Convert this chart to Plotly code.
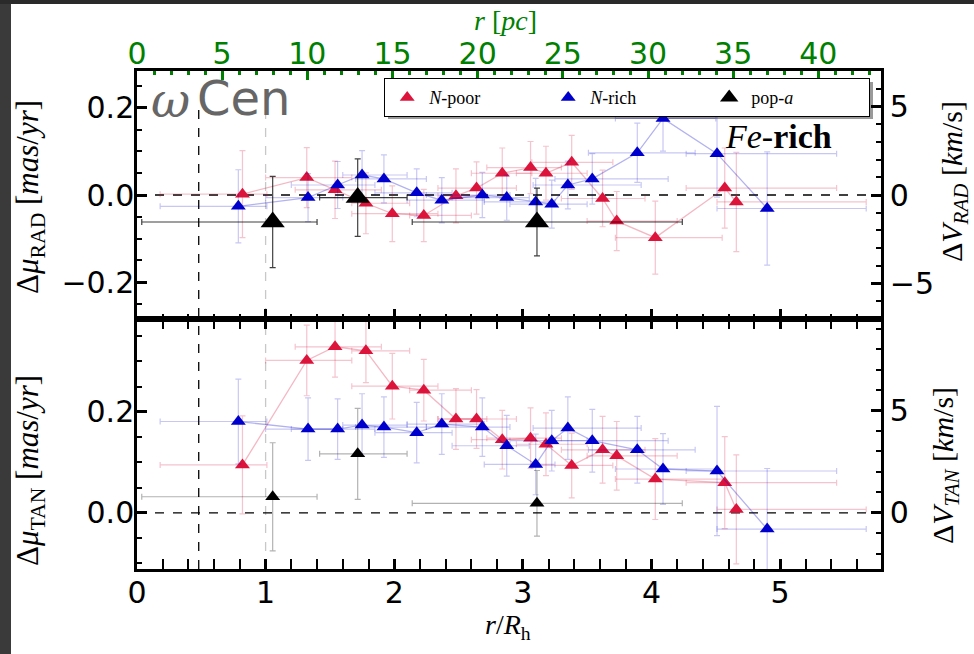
import plotly.graph_objects as go

# ---------------- data ----------------
RH_PC = 7.55          # pc per R_h (top axis)
KMS_PER_MASYR = 24.65 # km/s per mas/yr (right axes)

# N-poor (red)
np_r    = [0.82, 1.32, 1.54, 1.78, 1.985, 2.23, 2.48, 2.64, 2.84, 3.06, 3.18, 3.38, 3.62, 3.73, 4.03, 4.57, 4.66]
np_xlo  = [0.18, 1.00, 1.23, 1.67, 1.67, 2.12, 2.34, 2.34, 2.60, 2.72, 2.95, 3.07, 3.30, 3.50, 3.72, 4.27, 4.51]
np_xhi  = [1.01, 1.67, 1.90, 2.12, 2.34, 2.60, 2.72, 2.95, 3.07, 3.30, 3.50, 3.70, 3.95, 4.20, 4.55, 5.44, 5.67]
np_rad  = [0.002, 0.040, 0.012, -0.019, -0.043, -0.047, -0.002, 0.016, 0.050, 0.063, 0.050, 0.075, -0.008, -0.060, -0.098, 0.016, -0.016]
np_rade = [0.100, 0.069, 0.066, 0.070, 0.064, 0.060, 0.062, 0.060, 0.058, 0.060, 0.062, 0.062, 0.065, 0.068, 0.084, 0.092, 0.114]
np_tan  = [0.095, 0.302, 0.329, 0.321, 0.251, 0.243, 0.186, 0.186, 0.145, 0.148, 0.136, 0.094, 0.125, 0.113, 0.067, 0.060, 0.007]
np_tane = [0.097, 0.070, 0.060, 0.063, 0.065, 0.061, 0.060, 0.058, 0.058, 0.060, 0.062, 0.064, 0.066, 0.068, 0.080, 0.091, 0.108]

# N-rich (blue)
nr_r    = [0.788, 1.33, 1.56, 1.75, 1.92, 2.175, 2.37, 2.685, 2.875, 3.10, 3.225, 3.35, 3.54, 3.89, 4.09, 4.51, 4.90]
nr_xlo  = [0.18, 1.00, 1.20, 1.60, 1.70, 1.85, 2.10, 2.25, 2.45, 2.70, 2.90, 3.08, 3.25, 3.51, 3.72, 4.27, 4.51]
nr_xhi  = [1.01, 1.60, 1.85, 2.10, 2.25, 2.45, 2.70, 2.90, 3.05, 3.25, 3.50, 3.92, 4.13, 4.34, 4.50, 5.44, 5.67]
nr_rad  = [-0.026, -0.006, 0.023, 0.046, 0.037, 0.005, -0.012, 0.000, -0.006, -0.016, -0.021, 0.023, 0.037, 0.097, 0.176, 0.095, -0.031]
nr_rade = [0.084, 0.055, 0.054, 0.056, 0.055, 0.055, 0.052, 0.052, 0.052, 0.054, 0.055, 0.055, 0.058, 0.068, 0.075, 0.100, 0.130]
nr_tan  = [0.181, 0.166, 0.166, 0.174, 0.170, 0.159, 0.176, 0.170, 0.133, 0.096, 0.143, 0.168, 0.143, 0.125, 0.087, 0.083, -0.032]
nr_tane = [0.084, 0.062, 0.060, 0.062, 0.060, 0.060, 0.060, 0.058, 0.060, 0.060, 0.060, 0.062, 0.062, 0.066, 0.070, 0.128, 0.120]

# pop-a (black)
pa_r    = [1.055, 1.716, 3.11]
pa_xlo  = [0.037, 1.42, 2.14]
pa_xhi  = [1.40, 2.10, 4.24]
pa_rad  = [-0.062, -0.006, -0.062]
pa_rade = [0.105, 0.089, 0.078]
pa_tan  = [0.032, 0.117, 0.019]
pa_tane = [0.107, 0.090, 0.065]

legend_names = ["<i>N</i>-poor", "<i>N</i>-rich", "pop-<i>a</i>"]

# ---------------- styling ----------------
RED = "rgb(220,20,60)"
BLUE = "rgb(0,0,205)"
SERIF = "Liberation Serif"
SANS = "DejaVu Sans"

fig = go.Figure()


def add_series(r, xlo, xhi, y, ye, rgb, xa, ya, mode, size, ecol, lcol):
    fig.add_trace(go.Scatter(
        x=r, y=y, xaxis=xa, yaxis=ya, mode=mode, showlegend=False,
        line=dict(color=lcol, width=1.3),
        marker=dict(symbol="triangle-up", size=size, color=rgb),
        error_y=dict(type="data", array=ye, color=ecol, thickness=1.2, width=3),
        error_x=dict(type="data", symmetric=False,
                     array=[h - v for h, v in zip(xhi, r)],
                     arrayminus=[v - l for v, l in zip(r, xlo)],
                     color=ecol, thickness=1.2, width=3),
    ))


for (ya, yr, yre, yp, ype, yb, ybe) in [
    ("y2", np_rad, np_rade, nr_rad, nr_rade, pa_rad, pa_rade),
    ("y", np_tan, np_tane, nr_tan, nr_tane, pa_tan, pa_tane),
]:
    xa = "x2" if ya == "y2" else "x"
    add_series(np_r, np_xlo, np_xhi, yr, yre, RED, xa, ya, "lines+markers", 13,
               "rgba(220,20,60,0.25)", "rgba(220,20,60,0.3)")
    add_series(nr_r, nr_xlo, nr_xhi, yp, ype, BLUE, xa, ya, "lines+markers", 13,
               "rgba(0,0,205,0.22)", "rgba(0,0,205,0.3)")
    if ya == "y2":
        add_series(pa_r, pa_xlo, pa_xhi, yb, ybe, "black", xa, ya, "markers", 21,
                   "rgba(0,0,0,0.75)", "black")
    else:
        add_series(pa_r, pa_xlo, pa_xhi, yb, ybe, "black", xa, ya, "markers", 13,
                   "rgba(0,0,0,0.3)", "black")

# legend-only traces
for name, col, sz in zip(legend_names, [RED, BLUE, "black"], [13, 13, 20]):
    fig.add_trace(go.Scatter(x=[None], y=[None], mode="markers", name=name, xaxis="x2", yaxis="y2",
                             marker=dict(symbol="triangle-up", size=sz, color=col)))

XMAX = 5.785
SPLIT = 0.502

tickfont = dict(family=SANS, size=30, color="black")
axcommon = dict(showline=True, linecolor="black", linewidth=2.5, ticks="inside",
                ticklen=10, tickwidth=2.5, tickcolor="black", showgrid=False,
                zeroline=False, tickfont=tickfont)


def px2x(px):
    return (px - 137) / 744


def py2y(py):
    return (569 - py) / 498


fig.update_layout(
    width=974, height=654,
    margin=dict(l=137, r=93, t=71, b=85),
    paper_bgcolor="white", plot_bgcolor="white",
    legend=dict(orientation="h", x=px2x(384), y=py2y(78),
                xanchor="left", yanchor="top", bgcolor="white",
                bordercolor="black", borderwidth=1.2,
                font=dict(family=SERIF, size=18, color="black"),
                entrywidth=112, entrywidthmode="pixels", itemwidth=34),
    xaxis=dict(domain=[0, 1], range=[0, XMAX], anchor="y", dtick=1, tick0=0,
               mirror="allticks", ticklabelstandoff=-5,
               minor=dict(ticks="inside", dtick=0.2, ticklen=5, tickwidth=1.5, tickcolor="black"),
               **axcommon),
    xaxis2=dict(domain=[0, 1], range=[0, XMAX], anchor="y2", dtick=1, tick0=0, mirror=True,
                showticklabels=False,
                minor=dict(ticks="inside", dtick=0.2, ticklen=5, tickwidth=1.5, tickcolor="black"),
                **axcommon),
    xaxis3=dict(range=[0, XMAX * RH_PC], overlaying="x2", anchor="y2", side="top",
                dtick=5, tick0=0, showline=False, ticks="inside", ticklen=9, tickwidth=3,
                tickcolor="green", showgrid=False, zeroline=False,
                tickfont=dict(family=SANS, size=30, color="green"),
                minor=dict(ticks="inside", dtick=1, ticklen=4, tickwidth=3, tickcolor="green")),
    yaxis=dict(domain=[0, SPLIT], range=[-0.111, 0.384], anchor="x", dtick=0.2, tick0=0,
               tickformat=".1f", ticklabelstandoff=-6,
               minor=dict(ticks="inside", dtick=0.05, ticklen=5, tickwidth=1.5, tickcolor="black"),
               **axcommon),
    yaxis2=dict(domain=[SPLIT, 1], range=[-0.285, 0.285], anchor="x2", dtick=0.2, tick0=0,
                tickformat=".1f", ticklabelstandoff=-6,
                minor=dict(ticks="inside", dtick=0.05, ticklen=5, tickwidth=1.5, tickcolor="black"),
                **axcommon),
    yaxis3=dict(domain=[0, SPLIT], range=[-0.111 * KMS_PER_MASYR, 0.384 * KMS_PER_MASYR],
                overlaying="y", anchor="x", side="right", tickvals=[0, 5],
                minor=dict(ticks="inside", dtick=1, ticklen=5, tickwidth=1.5, tickcolor="black"),
                **axcommon),
    yaxis4=dict(domain=[SPLIT, 1], range=[-0.285 * KMS_PER_MASYR, 0.285 * KMS_PER_MASYR],
                overlaying="y2", anchor="x2", side="right", tickvals=[-5, 0, 5],
                minor=dict(ticks="inside", dtick=1, ticklen=5, tickwidth=1.5, tickcolor="black"),
                **axcommon),
)

# dummy traces so the right/top axes render
fig.add_trace(go.Scatter(x=[None], y=[None], xaxis="x", yaxis="y3", showlegend=False))
fig.add_trace(go.Scatter(x=[None], y=[None], xaxis="x2", yaxis="y4", showlegend=False))
fig.add_trace(go.Scatter(x=[None], y=[None], xaxis="x3", yaxis="y2", showlegend=False))

shapes = []
shapes.append(dict(type="rect", xref="paper", yref="paper", x0=px2x(0), x1=px2x(11), y0=py2y(654), y1=py2y(0),
                   fillcolor="#3a3a3a", line=dict(width=0), layer="below"))
shapes.append(dict(type="rect", xref="paper", yref="paper", x0=px2x(0), x1=px2x(974), y0=py2y(4), y1=py2y(0),
                   fillcolor="#2a2a2a", line=dict(width=0), layer="below"))
shapes.append(dict(type="line", xref="x", yref="y", x0=0, x1=XMAX, y0=0, y1=0,
                   line=dict(color="black", width=1.3, dash="dash"), layer="below"))
shapes.append(dict(type="line", xref="x2", yref="y2", x0=0, x1=XMAX, y0=0, y1=0,
                   line=dict(color="black", width=1.3, dash="dash"), layer="below"))
shapes.append(dict(type="line", xref="x", yref="paper", x0=0.48, x1=0.48, y0=0, y1=0.935,
                   line=dict(color="black", width=1.3, dash="dash"), layer="below"))
shapes.append(dict(type="line", xref="x", yref="paper", x0=1.0, x1=1.0, y0=0, y1=0.935,
                   line=dict(color="#c8c8c8", width=1.3, dash="dash"), layer="below"))
# legend drop shadow
shapes.append(dict(type="rect", xref="paper", yref="paper", x0=px2x(388), x1=px2x(873), y0=py2y(119), y1=py2y(82),
                   fillcolor="#9a9a9a", line=dict(width=0), layer="below"))
fig.update_layout(shapes=shapes)

ann = []
ann.append(dict(text="<i>ω</i>", xref="paper", yref="paper", x=px2x(149), y=py2y(100), xanchor="left", yanchor="middle",
                showarrow=False, font=dict(family="DejaVu Serif", size=48, color="#666666")))
ann.append(dict(text="Cen", xref="paper", yref="paper", x=px2x(195), y=py2y(98), xanchor="left", yanchor="middle",
                showarrow=False, font=dict(family=SANS, size=48, color="#666666")))
ann.append(dict(text="<i>Fe</i>-<b>rich</b>", xref="paper", yref="paper", x=px2x(778), y=py2y(136),
                xanchor="center", yanchor="middle", showarrow=False,
                font=dict(family=SERIF, size=34, color="black")))
ann.append(dict(text="<i>r</i> [<i>pc</i>]", xref="paper", yref="paper", x=px2x(505), y=py2y(20),
                xanchor="center", yanchor="middle", showarrow=False,
                font=dict(family=SERIF, size=28, color="green")))
ann.append(dict(text="<i>r</i>/<i>R</i><sub>h</sub>", xref="paper", yref="paper", x=px2x(508), y=py2y(626),
                xanchor="center", yanchor="middle", showarrow=False,
                font=dict(family=SERIF, size=28, color="black")))
ann.append(dict(text="Δ<i>μ</i><sub>RAD</sub> [<i>mas</i>/<i>yr</i>]", xref="paper", yref="paper",
                x=px2x(30), y=py2y(197), xanchor="center", yanchor="middle", textangle=-90, showarrow=False,
                font=dict(family=SERIF, size=31, color="black")))
ann.append(dict(text="Δ<i>μ</i><sub>TAN</sub> [<i>mas</i>/<i>yr</i>]", xref="paper", yref="paper",
                x=px2x(30), y=py2y(470), xanchor="center", yanchor="middle", textangle=-90, showarrow=False,
                font=dict(family=SERIF, size=31, color="black")))
ann.append(dict(text="Δ<i>V</i><sub><i>RAD</i></sub> [<i>km</i>/s]", xref="paper", yref="paper",
                x=px2x(954), y=py2y(182), xanchor="center", yanchor="middle", textangle=-90, showarrow=False,
                font=dict(family=SERIF, size=30, color="black")))
ann.append(dict(text="Δ<i>V</i><sub><i>TAN</i></sub> [<i>km</i>/s]", xref="paper", yref="paper",
                x=px2x(945), y=py2y(466), xanchor="center", yanchor="middle", textangle=-90, showarrow=False,
                font=dict(family=SERIF, size=30, color="black")))
fig.update_layout(annotations=ann)

fig.write_html("out.html")
